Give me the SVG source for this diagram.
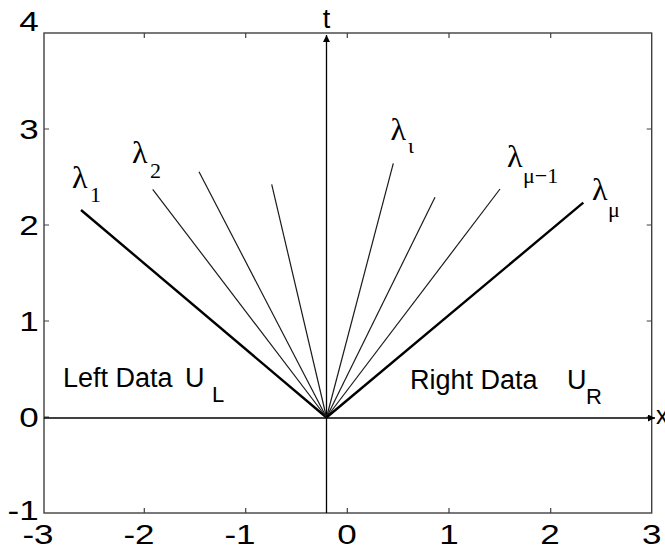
<svg xmlns="http://www.w3.org/2000/svg" width="665" height="550" viewBox="0 0 665 550">
<defs>
<style>
.box{fill:none;stroke:#404040;stroke-width:1.4}
.tick{stroke:#404040;stroke-width:1.2}
.axis{stroke:#000;stroke-width:1.3;fill:none}
.thin{stroke:#1a1a1a;stroke-width:1.2}
.thick{stroke:#000;stroke-width:2.4}
.tl{font-family:"Liberation Sans",Arial,sans-serif;font-size:28px;fill:#000}
.lab{font-family:"Liberation Sans",Arial,sans-serif;font-size:27px;fill:#000}
.sub{font-family:"Liberation Sans",Arial,sans-serif;font-size:22px;fill:#000}
.lam{font-family:"Liberation Serif","Times New Roman",serif;font-size:32px;fill:#000}
.lsub{font-family:"Liberation Serif","Times New Roman",serif;font-size:22px;fill:#000}
</style>
<marker id="ah" viewBox="0 0 10 10" refX="10" refY="5" markerWidth="8" markerHeight="7" markerUnits="userSpaceOnUse" orient="auto">
<path d="M0,0 L10,5 L0,10 Z" fill="#000"/>
</marker>
</defs>
<rect width="665" height="550" fill="#fff"/>
<g id="frame">
<rect class="box" x="44" y="33" width="607.7" height="480"/>
<g class="tick">
<path d="M144.3,33v5 M245.7,33v5 M347.3,33v5 M449,33v5 M550.7,33v5"/>
<path d="M144.3,513v-5 M245.7,513v-5 M347.3,513v-5 M449,513v-5 M550.7,513v-5"/>
<path d="M44,129h5 M44,225h5 M44,321h5 M44,417h5"/>
<path d="M651.7,129h-5 M651.7,225h-5 M651.7,321h-5 M651.7,417h-5"/>
</g>
</g>
<g id="tick-labels" class="tl" transform="scale(1.25,1)">
<text x="31" y="31" text-anchor="end">4</text>
<text x="31" y="139" text-anchor="end">3</text>
<text x="31" y="235" text-anchor="end">2</text>
<text x="31" y="331" text-anchor="end">1</text>
<text x="31" y="427" text-anchor="end">0</text>
<text x="31" y="520" text-anchor="end">-1</text>
<text x="30.4" y="544" text-anchor="middle">-3</text>
<text x="111.2" y="544" text-anchor="middle">-2</text>
<text x="192" y="544" text-anchor="middle">-1</text>
<text x="277.6" y="544" text-anchor="middle">0</text>
<text x="359.2" y="544" text-anchor="middle">1</text>
<text x="440" y="544" text-anchor="middle">2</text>
<text x="521.4" y="544" text-anchor="middle">3</text>
</g>
<g id="connectors">
<line class="axis" x1="44" y1="418" x2="655" y2="418" marker-end="url(#ah)"/>
<line class="axis" x1="326.5" y1="513" x2="326.5" y2="35" marker-end="url(#ah)"/>
<line class="thick" x1="326.5" y1="417.5" x2="81" y2="210"/>
<line class="thin" x1="326.5" y1="417.5" x2="152.7" y2="189.3"/>
<line class="thin" x1="326.5" y1="417.5" x2="199" y2="171.7"/>
<line class="thin" x1="326.5" y1="417.5" x2="271.7" y2="184.3"/>
<line class="thin" x1="326.5" y1="417.5" x2="393.3" y2="163.3"/>
<line class="thin" x1="326.5" y1="417.5" x2="435" y2="197.3"/>
<line class="thin" x1="326.5" y1="417.5" x2="500" y2="189"/>
<line class="thick" x1="326.5" y1="417.5" x2="583.3" y2="202.7"/>
</g>
<g id="axis-labels">
<text class="lab" x="326.5" y="28" text-anchor="middle">t</text>
<text class="lab" x="656" y="424" style="font-size:25px">x</text>
</g>
<g id="lambda-labels">
<text class="lam" x="72" y="188">λ</text><text class="lsub" x="90" y="202">1</text>
<text class="lam" x="132" y="163">λ</text><text class="lsub" x="150" y="178">2</text>
<text class="lam" x="390.5" y="140">λ</text><text class="lsub" x="408" y="153">ι</text>
<text class="lam" x="507" y="166.5">λ</text><text class="lsub" x="523" y="183">μ−1</text>
<text class="lam" x="592" y="200">λ</text><text class="lsub" x="608" y="217">μ</text>
</g>
<g id="left-data">
<text class="lab" x="63" y="387">Left Data</text>
<text class="lab" x="185" y="387">U</text>
<text class="sub" x="212" y="402">L</text>
</g>
<g id="right-data">
<text class="lab" x="410" y="388.5">Right Data</text>
<text class="lab" x="567" y="388.5">U</text>
<text class="sub" x="586" y="403.5">R</text>
</g>
</svg>
